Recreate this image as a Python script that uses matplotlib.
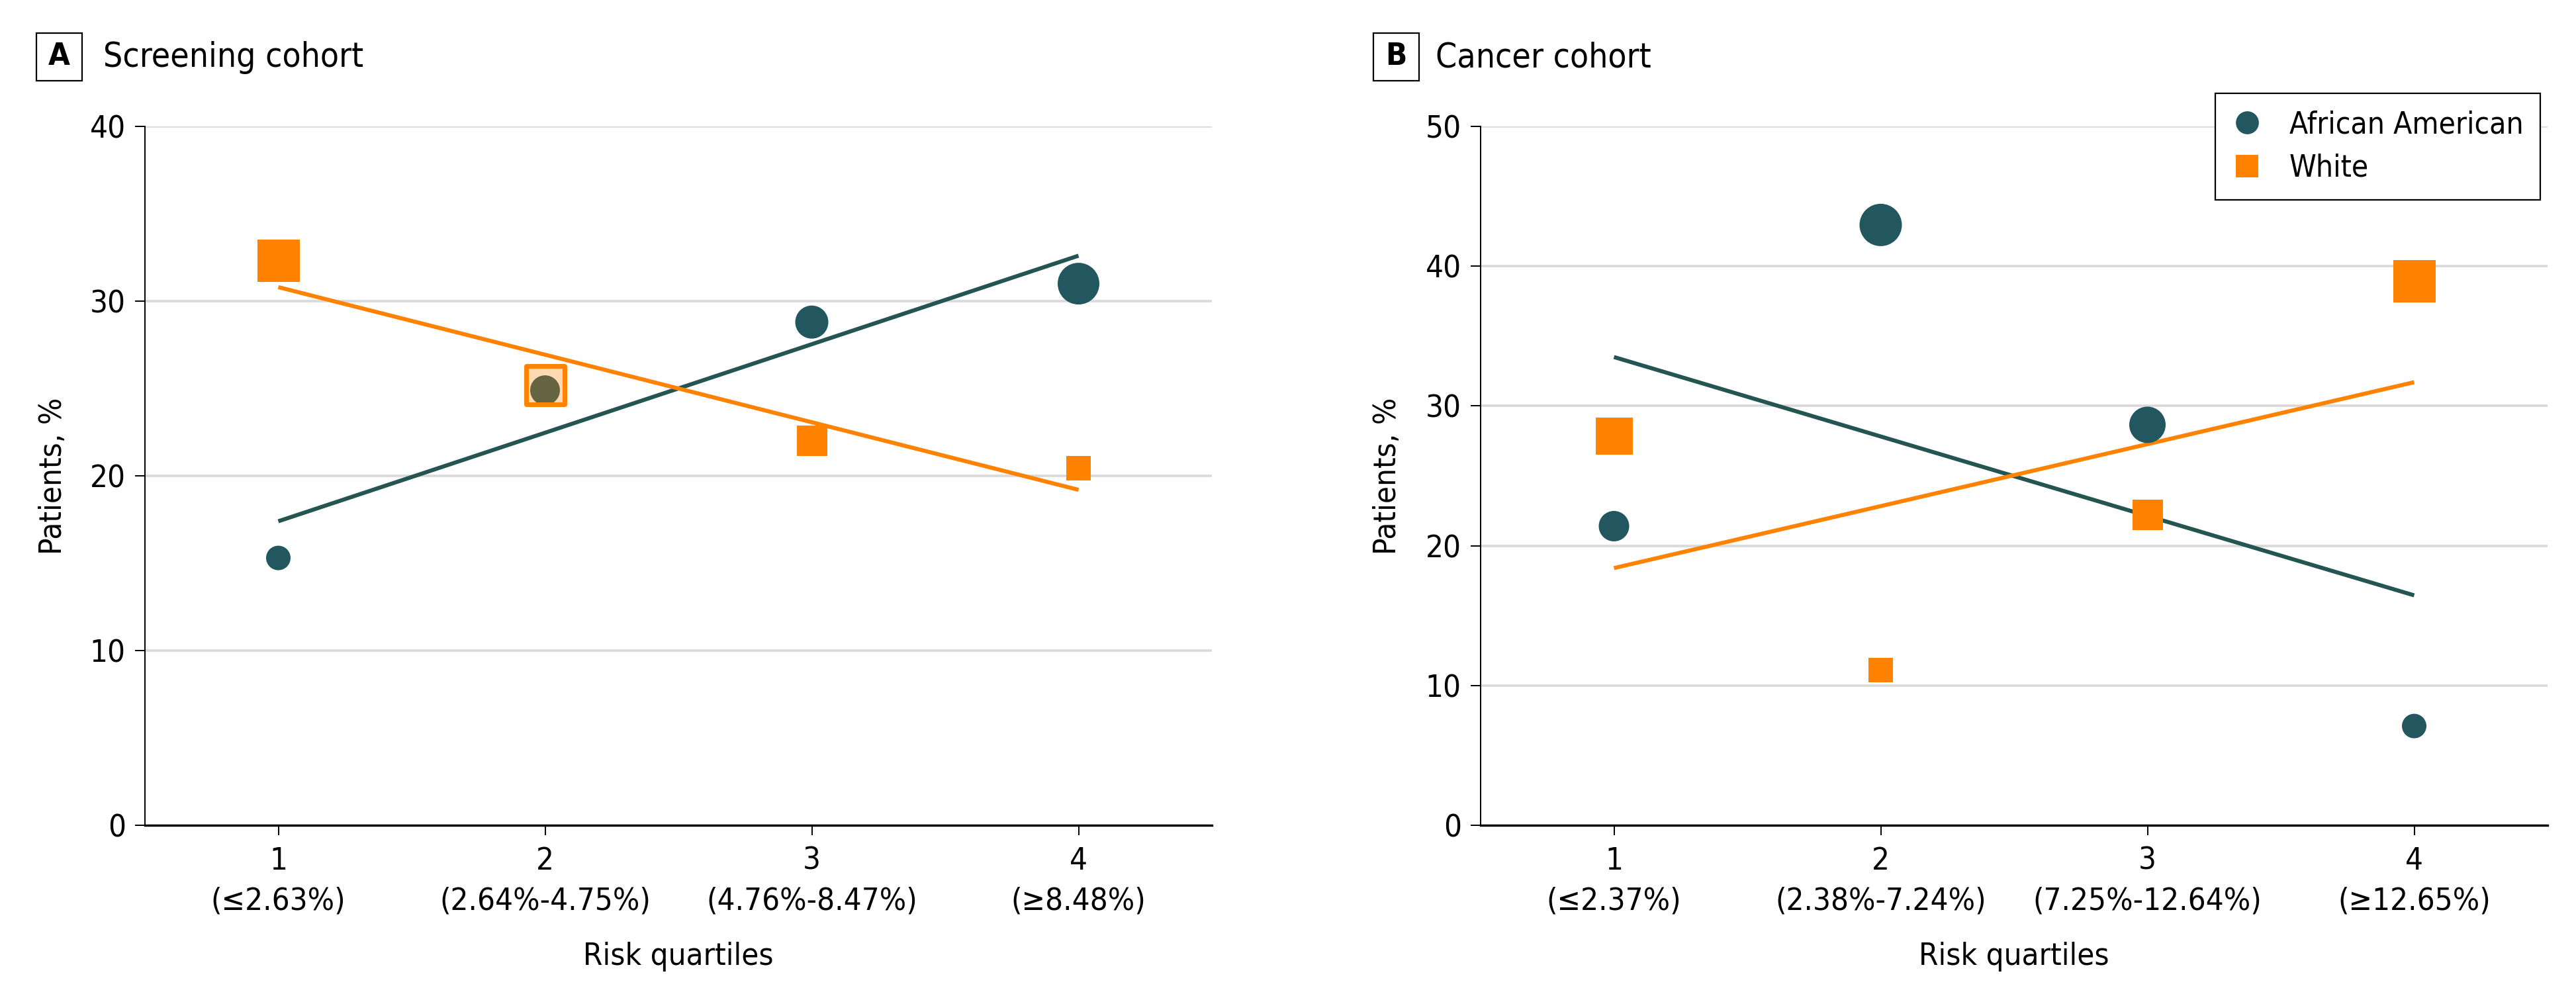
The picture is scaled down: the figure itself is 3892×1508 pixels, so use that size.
import numpy as np
import matplotlib
matplotlib.use('Agg')
import matplotlib.pyplot as plt
from matplotlib import font_manager
from matplotlib.lines import Line2D
from matplotlib.patches import Rectangle

names = {f.name for f in font_manager.fontManager.ttflist}
if 'Liberation Sans Narrow' in names:
	plt.rcParams['font.family'] = ['Liberation Sans Narrow', 'DejaVu Sans']
else:
	plt.rcParams['font.family'] = ['DejaVu Sans']
	plt.rcParams['font.stretch'] = 'condensed'

quartiles = [1, 2, 3, 4]
labels_a = ['1\n(≤2.63%)', '2\n(2.64%-4.75%)', '3\n(4.76%-8.47%)', '4\n(≥8.48%)']
labels_b = ['1\n(≤2.37%)', '2\n(2.38%-7.24%)', '3\n(7.25%-12.64%)', '4\n(≥12.65%)']

# percent of patients per quartile
aa_a = [15.3, 24.9, 28.8, 31.0]
white_a = [32.3, 25.2, 22.0, 20.45]
aa_b = [21.4, 42.95, 28.65, 7.1]
white_b = [27.85, 11.1, 22.2, 38.9]

# fitted trend lines, value at quartile 1 and 4
fit_aa_a = [17.4, 32.6]
fit_white_a = [30.8, 19.2]
fit_aa_b = [33.5, 16.45]
fit_white_b = [18.4, 31.7]

# marker widths in pixels
size_aa_a = [37, 45, 50, 63]
size_white_a = [64, 58, 46, 37]
size_aa_b = [46, 64, 55, 37]
size_white_b = [56, 37, 46, 64]

teal = '#22575F'
teal_line = '#245553'
orange = '#FF8200'
grid = '#D9D9D9'

W, H = 3892, 1508
fig = plt.figure(figsize=(W / 100, H / 100), dpi=100)

def px2s(px):
	return (np.array(px) * 0.72) ** 2

def panel(rect, aa, white, fit_aa, fit_white, s_aa, s_white, ymax, labels, overlap=None):
	ax = fig.add_axes(rect)
	ax.set_xlim(0.5, 4.5)
	ax.set_ylim(0, ymax)
	ax.set_yticks(np.arange(0, ymax + 1, 10))
	ax.set_xticks(quartiles)
	ax.set_xticklabels(labels, linespacing=1.45)
	ax.yaxis.grid(True, color=grid, lw=2.6)
	ax.set_axisbelow(True)
	for s in ['top', 'right']:
		ax.spines[s].set_visible(False)
	ax.spines['left'].set_linewidth(1.4)
	ax.spines['bottom'].set_linewidth(2.4)
	ax.tick_params(axis='both', direction='out', length=11, width=1.4, labelsize=34, colors='black')
	ax.tick_params(axis='x', pad=12)
	ax.tick_params(axis='y', pad=10)

	ax.plot([1, 4], fit_aa, color=teal_line, lw=4.4, solid_capstyle='butt', zorder=2)
	ax.plot([1, 4], fit_white, color=orange, lw=4.4, solid_capstyle='butt', zorder=2)
	ax.scatter(quartiles, aa, s=px2s(s_aa), marker='o', color=teal, linewidths=0, zorder=3)

	fc = [matplotlib.colors.to_rgba(orange)] * 4
	lws = [0, 0, 0, 0]
	if overlap is not None:
		fc[overlap] = matplotlib.colors.to_rgba(orange, 0.3)
		lws[overlap] = 5
	ax.scatter(quartiles, white, s=px2s(s_white), marker='s', facecolors=fc,
		edgecolors=orange, linewidths=lws, zorder=4)
	return ax

x0a, x0b, aw = 219 / W, 2237 / W, 1612 / W
y0, ah = 1 - 1247 / H, (1247 - 191) / H

ax1 = panel([x0a, y0, aw, ah], aa_a, white_a, fit_aa_a, fit_white_a,
	size_aa_a, size_white_a, 40, labels_a, overlap=1)
ax2 = panel([x0b, y0, aw, ah], aa_b, white_b, fit_aa_b, fit_white_b,
	size_aa_b, size_white_b, 50, labels_b)

# panel titles
for bx, tx, letter, title in [(55, 156, 'A', 'Screening cohort'), (2075, 2169, 'B', 'Cancer cohort')]:
	fig.patches.append(Rectangle((bx / W, 1 - 122 / H), 69 / W, 72 / H, transform=fig.transFigure,
		fill=False, edgecolor='black', lw=1.6))
	fig.text((bx + 34.5) / W, 1 - 86 / H, letter, fontsize=34, fontweight='bold', ha='center', va='center')
	fig.text(tx / W, 1 - 87 / H, title, fontsize=37, ha='left', va='center')

for lx, cx in [(80, 219 + 806), (2097, 2237 + 806)]:
	fig.text(lx / W, 1 - 719 / H, 'Patients, %', fontsize=34, rotation=90, ha='center', va='center')
	fig.text(cx / W, 1 - 1445 / H, 'Risk quartiles', fontsize=34, ha='center', va='center')

handles = [Line2D([], [], marker='o', color=teal, ls='none', markersize=25, markeredgewidth=0),
	Line2D([], [], marker='s', color=orange, ls='none', markersize=24, markeredgewidth=0)]
leg = fig.legend(handles, ['African American', 'White'], loc='upper right',
	bbox_to_anchor=(3838 / W, 1 - 141 / H), bbox_transform=fig.transFigure,
	fontsize=33, frameon=True, fancybox=False, framealpha=1, edgecolor='black',
	borderpad=0.55, handlelength=1.0, handletextpad=0.9, labelspacing=0.45, borderaxespad=0)
leg.get_frame().set_linewidth(1.6)

fig.savefig('out.png', dpi=100)
